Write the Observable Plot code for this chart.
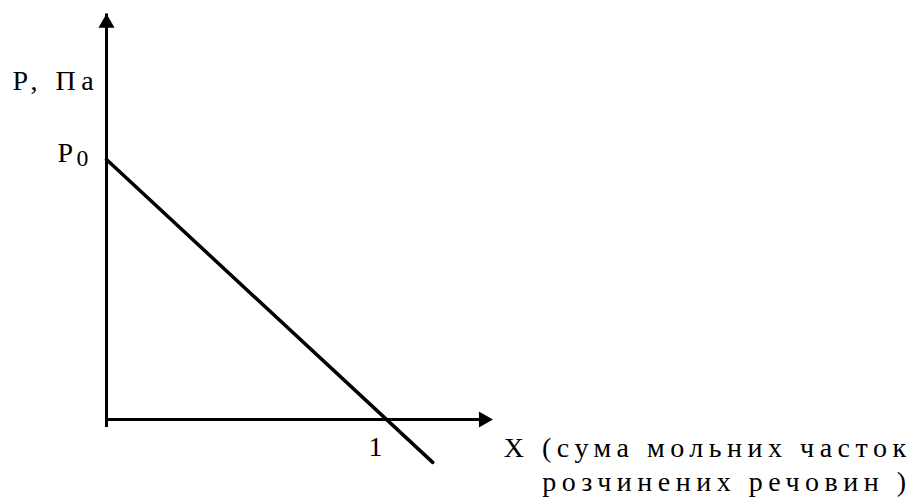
<!DOCTYPE html>
<html>
<head>
<meta charset="utf-8">
<script src="https://cdn.jsdelivr.net/npm/d3@7"></script>
<script src="https://cdn.jsdelivr.net/npm/@observablehq/plot@0.6"></script>
<style>
  html, body { margin: 0; padding: 0; background: #fff; }
  #chart svg text { font-family: "Liberation Serif", "Times New Roman", serif; letter-spacing: 5.5px; }
</style>
</head>
<body>
<div id="chart"></div>
<script>
// Vapour pressure over a solution vs. total mole fraction of solutes: P = P0 (1 - X)
const fraction = [0, 1.165];          // X, mole fraction of dissolved substances
const pressure = [1, -0.165];         // P / P0
const xAxisEnd = 1.38;                // arrow tip of the X axis (in X units)
const yAxisEnd = 1.56;                // arrow tip of the P axis (in P0 units)
const yAxisLabel = "P, Па";
const yAxisLabelAt = 1.3;             // height of the axis title, in P0 units
const p0Label = "P";
const p0Sub = "0";
const xTickLabel = "1";
const xAxisLabel = "X (сума мольних часток\nрозчинених речовин )";

const line = fraction.map((x, i) => ({x, p: pressure[i]}));
const fs = 28;

const chart = Plot.plot({
  width: 915,
  height: 499,
  margin: 0,
  x: {domain: [0, 1], range: [106, 386]},
  y: {domain: [0, 1], range: [419, 159]},
  axis: null,
  marks: [
    // axes with arrowheads
    Plot.ruleX([0], {y1: 0, y2: yAxisEnd, stroke: "black", strokeWidth: 3, insetTop: 8}),
    Plot.ruleY([0], {x1: 0, x2: xAxisEnd, stroke: "black", strokeWidth: 3, insetRight: 8}),
    Plot.dot([{x: 0, p: yAxisEnd}], {x: "x", y: "p", symbol: "triangle", r: 6, fill: "black", stroke: null, dy: 9.3}),
    Plot.dot([{x: xAxisEnd, p: 0}], {x: "x", y: "p", symbol: "triangle", r: 6, fill: "black", stroke: null, rotate: 90, dx: -9.3}),
    // pressure line
    Plot.line(line, {x: "x", y: "p", stroke: "black", strokeWidth: 3.5}),
    // labels
    Plot.text([yAxisLabel], {x: 0, y: yAxisLabelAt, text: d => d, textAnchor: "start", dx: -94, fontSize: fs, fill: "black"}),
    Plot.text([p0Label], {x: 0, y: pressure[0], text: d => d, textAnchor: "start", dx: -49, dy: -6, fontSize: fs, fill: "black"}),
    Plot.text([p0Sub], {x: 0, y: pressure[0], text: d => d, textAnchor: "start", dx: -30, dy: -1, fontSize: fs * 0.85, fill: "black"}),
    Plot.text([xTickLabel], {x: 1, y: 0, text: d => d, textAnchor: "start", dx: -18, dy: 28, fontSize: fs, fill: "black"}),
    Plot.text([xAxisLabel], {frameAnchor: "bottom-right", text: d => d, textAnchor: "end", lineAnchor: "bottom", lineHeight: 1.2, dx: -4, dy: -9, fontSize: fs, fill: "black"})
  ]
});

// single glyphs need no tracking
d3.select(chart).selectAll("text")
  .filter(function() { return this.textContent.length === 1; })
  .style("letter-spacing", "0px");

document.getElementById("chart").append(chart);
</script>
</body>
</html>
